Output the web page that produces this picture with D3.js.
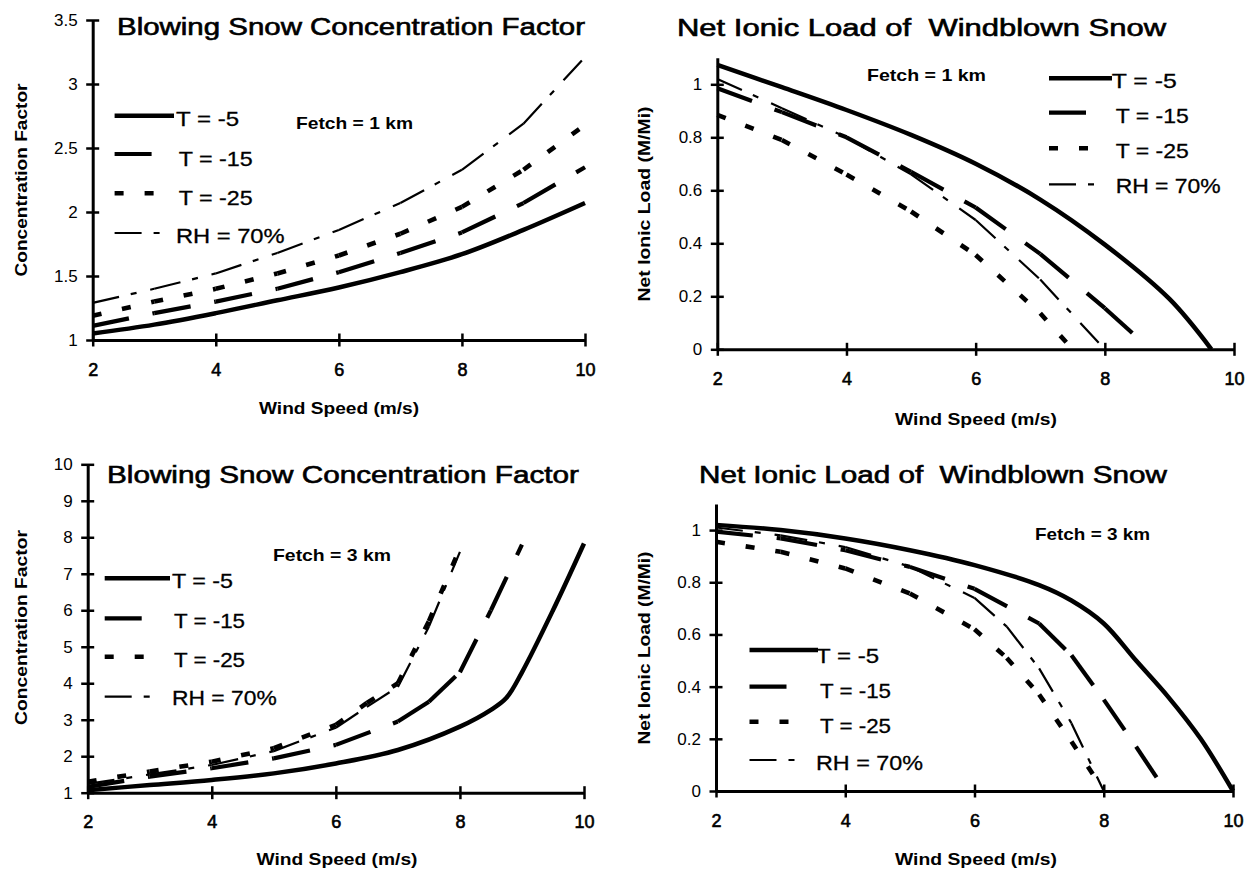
<!DOCTYPE html>
<html>
<head>
<meta charset="utf-8">
<script src="https://cdn.jsdelivr.net/npm/d3@7"></script>
<style>
  html, body { margin: 0; padding: 0; background: #fff; }
  svg { display: block; font-family: "Liberation Sans", Arial, sans-serif; }
</style>
</head>
<body>
<script>
// ---------------- DATA ----------------
const seriesNames = ["T = -5", "T = -15", "T = -25", "RH = 70%"];
const xTicks = [2, 4, 6, 8, 10];
const cfTicks1 = [1, 1.5, 2, 2.5, 3, 3.5];
const cfTicks3 = [1, 2, 3, 4, 5, 6, 7, 8, 9, 10];
const nlTicks = [0, 0.2, 0.4, 0.6, 0.8, 1];

// Fetch = 1 km : concentration factor
const windSpeed = [2, 3, 4, 5, 6, 7, 8, 9, 10];
const cf1_T5  = [1.05, 1.12, 1.21, 1.31, 1.41, 1.53, 1.67, 1.86, 2.07];
const cf1_T15 = [1.11, 1.21, 1.30, 1.40, 1.53, 1.68, 1.84, 2.07, 2.35];
const cf1_T25 = [1.19, 1.30, 1.40, 1.52, 1.66, 1.83, 2.04, 2.33, 2.68];
const cf1_RH  = [1.29, 1.40, 1.52, 1.68, 1.86, 2.07, 2.33, 2.69, 3.21];

// Fetch = 1 km : net ionic load
const nl1_T5_x  = [2, 3, 4, 5, 6, 7, 8, 9, 9.65];
const nl1_T5    = [1.073, 0.989, 0.903, 0.809, 0.70, 0.565, 0.395, 0.19, 0];
const nl1_T15_x = [2, 3, 4, 5, 6, 7, 8, 8.5];
const nl1_T15   = [0.985, 0.895, 0.80, 0.67, 0.535, 0.36, 0.155, 0.045];
const nl1_T25_x = [2, 3, 4, 5, 6, 7, 7.5];
const nl1_T25   = [0.885, 0.79, 0.66, 0.52, 0.356, 0.136, 0];
const nl1_RH_x  = [2, 3, 4, 5, 6, 7, 8];
const nl1_RH    = [1.02, 0.91, 0.80, 0.66, 0.488, 0.263, 0];

// Fetch = 3 km : concentration factor
const cf3_T5_x  = [2, 3, 4, 5, 6, 7, 8, 8.5, 8.75, 9, 9.5, 10];
const cf3_T5    = [1.07, 1.21, 1.35, 1.53, 1.80, 2.17, 2.81, 3.27, 3.6, 4.3, 6.0, 7.83];
const cf3_T15_x = [2, 3, 4, 5, 6, 7, 7.5, 8, 8.5, 9];
const cf3_T15   = [1.16, 1.44, 1.67, 1.94, 2.31, 2.95, 3.49, 4.3, 6.0, 7.8];
const cf3_T25_x = [2, 3, 4, 5, 6, 6.5, 7, 7.5, 8];
const cf3_T25   = [1.30, 1.58, 1.85, 2.22, 2.86, 3.46, 4.0, 5.7, 7.7];
const cf3_RH_x  = [2, 3, 4, 5, 6, 6.5, 7, 7.5, 8];
const cf3_RH    = [1.24, 1.50, 1.76, 2.14, 2.78, 3.35, 3.9, 5.55, 7.6];

// Fetch = 3 km : net ionic load
const nl3_T5_x  = [2, 3, 4, 5, 6, 7, 7.5, 8, 8.5, 9, 9.5, 10];
const nl3_T5    = [1.02, 1.0, 0.968, 0.923, 0.866, 0.789, 0.73, 0.642, 0.50, 0.36, 0.20, 0];
const nl3_T15_x = [2, 3, 4, 5, 6, 7, 7.5, 8, 8.5, 8.93];
const nl3_T15   = [0.994, 0.968, 0.923, 0.859, 0.775, 0.642, 0.52, 0.35, 0.17, 0.01];
const nl3_T25_x = [2, 3, 4, 5, 6, 6.5, 7, 7.5, 8];
const nl3_T25   = [0.955, 0.917, 0.853, 0.757, 0.62, 0.51, 0.37, 0.19, 0];
const nl3_RH_x  = [2, 3, 4, 5, 6, 6.5, 7, 7.5, 8];
const nl3_RH    = [1.01, 0.98, 0.935, 0.86, 0.74, 0.63, 0.47, 0.26, 0];

// ---------------- STYLES ----------------
const lineStyles = {
  "T = -5":   { w: 4.5, dash: null,          legLen: null },
  "T = -15":  { w: 4.2, dash: "37,24",       legLen: 37 },
  "T = -25":  { w: 4.6, dash: "9,21",        legLen: 39 },
  "RH = 70%": { w: 2.2, dash: "27,12,6,14",  legLen: 45 }
};

// ---------------- LAYOUT ----------------
const panels = [
  {
    title: "Blowing Snow Concentration Factor", titleX: 117, titleY: 35, titleLen: 468,
    xr: [92.7, 585], yDomain: [1, 3.5], yr: [340, 20], yTicks: cfTicks1,
    yTitle: "Concentration Factor", yTitleX: 21, yTitleY: 180, yTitleLen: 193,
    xTitleX: 339, xTitleY: 414, xTitleLen: 160,
    fetch: "Fetch = 1 km", fetchX: 296, fetchY: 129, fetchLen: 117,
    legLine: [114.6, 174],
    legRows: [
      { lineY: 115.7, tx: 176,   ty: 126,   len: 63 },
      { lineY: 154,   tx: 178.7, ty: 166,   len: 74 },
      { lineY: 193.3, tx: 178.7, ty: 205,   len: 74 },
      { lineY: 233,   tx: 176,   ty: 243,   len: 108.6 }
    ],
    series: [
      d3.zip(windSpeed, cf1_T5), d3.zip(windSpeed, cf1_T15),
      d3.zip(windSpeed, cf1_T25), d3.zip(windSpeed, cf1_RH)
    ]
  },
  {
    title: "Net Ionic Load of  Windblown Snow", titleX: 677, titleY: 36, titleLen: 489,
    xr: [717.3, 1234], yDomain: [0, 1.1], yr: [349.3, 57.8], yTicks: nlTicks,
    yTitle: "Net Ionic Load (M/Mi)", yTitleX: 644, yTitleY: 204, yTitleLen: 195,
    xTitleX: 976, xTitleY: 425, xTitleLen: 162,
    fetch: "Fetch = 1 km", fetchX: 867, fetchY: 81, fetchLen: 119,
    legLine: [1049, 1112],
    legRows: [
      { lineY: 78.3,  tx: 1111.7, ty: 88,  len: 65 },
      { lineY: 112.7, tx: 1115.7, ty: 123, len: 73 },
      { lineY: 148.3, tx: 1115.7, ty: 158, len: 73 },
      { lineY: 184.3, tx: 1115.7, ty: 193, len: 105 }
    ],
    series: [
      d3.zip(nl1_T5_x, nl1_T5), d3.zip(nl1_T15_x, nl1_T15),
      d3.zip(nl1_T25_x, nl1_T25), d3.zip(nl1_RH_x, nl1_RH)
    ]
  },
  {
    title: "Blowing Snow Concentration Factor", titleX: 107, titleY: 483, titleLen: 472,
    xr: [87.7, 584], yDomain: [1, 10], yr: [792.7, 464.3], yTicks: cfTicks3,
    yTitle: "Concentration Factor", yTitleX: 21, yTitleY: 627.5, yTitleLen: 195,
    xTitleX: 337, xTitleY: 865, xTitleLen: 161,
    fetch: "Fetch = 3 km", fetchX: 273, fetchY: 561, fetchLen: 118,
    legLine: [104.7, 170],
    legRows: [
      { lineY: 578.3, tx: 172, ty: 588.3, len: 61 },
      { lineY: 618.3, tx: 174, ty: 628.3, len: 71 },
      { lineY: 656.7, tx: 174, ty: 666.7, len: 71 },
      { lineY: 696.7, tx: 172, ty: 705,   len: 104.7 }
    ],
    series: [
      d3.zip(cf3_T5_x, cf3_T5), d3.zip(cf3_T15_x, cf3_T15),
      d3.zip(cf3_T25_x, cf3_T25), d3.zip(cf3_RH_x, cf3_RH)
    ]
  },
  {
    title: "Net Ionic Load of  Windblown Snow", titleX: 699, titleY: 483, titleLen: 468,
    xr: [716, 1233], yDomain: [0, 1.1], yr: [791, 504], yTicks: nlTicks,
    yTitle: "Net Ionic Load (M/Mi)", yTitleX: 644, yTitleY: 648, yTitleLen: 193,
    xTitleX: 976, xTitleY: 865, xTitleLen: 162,
    fetch: "Fetch = 3 km", fetchX: 1035, fetchY: 540, fetchLen: 115,
    legLine: [749.5, 818],
    legRows: [
      { lineY: 650,   tx: 816, ty: 663.3, len: 63 },
      { lineY: 686.7, tx: 820, ty: 698.3, len: 71 },
      { lineY: 721.7, tx: 820, ty: 733.3, len: 71 },
      { lineY: 760,   tx: 816, ty: 770,   len: 107 }
    ],
    series: [
      d3.zip(nl3_T5_x, nl3_T5), d3.zip(nl3_T15_x, nl3_T15),
      d3.zip(nl3_T25_x, nl3_T25), d3.zip(nl3_RH_x, nl3_RH)
    ]
  }
];

// ---------------- DRAW ----------------
const svg = d3.select("body").append("svg")
  .attr("width", 1253).attr("height", 871);
svg.append("rect").attr("width", 1253).attr("height", 871).attr("fill", "#fff");

panels.forEach(p => {
  const g = svg.append("g");
  const x = d3.scaleLinear().domain([2, 10]).range(p.xr);
  const y = d3.scaleLinear().domain(p.yDomain).range(p.yr);
  const y0 = y(p.yDomain[0]);

  // Series
  const line = d3.line().x(d => x(d[0])).y(d => y(d[1]));
  const smooth = d3.line().x(d => x(d[0])).y(d => y(d[1])).curve(d3.curveCatmullRom.alpha(0.5));
  p.series.forEach((data, i) => {
    const st = lineStyles[seriesNames[i]];
    if (!st.dash) {
      g.append("path").attr("d", smooth(data))
        .attr("fill", "none").attr("stroke", "#000")
        .attr("stroke-width", st.w).attr("stroke-linejoin", "round");
    } else {
      // dash pattern restarts at every data point (segment-by-segment drawing)
      for (let k = 0; k < data.length - 1; k++) {
        g.append("path").attr("d", line([data[k], data[k + 1]]))
          .attr("fill", "none").attr("stroke", "#000")
          .attr("stroke-width", st.w).attr("stroke-dasharray", st.dash);
      }
    }
  });

  // Y axis
  const gy = g.append("g").attr("transform", `translate(${p.xr[0]},0)`)
    .call(d3.axisLeft(y).tickValues(p.yTicks).tickSizeInner(6).tickSizeOuter(0)
      .tickPadding(9).tickFormat(d => String(d)));
  gy.select(".domain").attr("stroke", "#000").attr("stroke-width", 3);
  gy.selectAll(".tick line").attr("x1", -6.5).attr("x2", 6.5)
    .attr("stroke", "#000").attr("stroke-width", 2.5);
  gy.selectAll(".tick text").attr("font-size", 17)
    .attr("font-family", "Liberation Sans, Arial, sans-serif").attr("fill", "#000");

  // X axis
  const gx = g.append("g").attr("transform", `translate(0,${y0})`)
    .call(d3.axisBottom(x).tickValues(xTicks).tickSizeInner(6).tickSizeOuter(0)
      .tickPadding(17).tickFormat(d => String(d)));
  gx.select(".domain").attr("stroke", "#000").attr("stroke-width", 3);
  gx.selectAll(".tick line").attr("y1", -6.5).attr("y2", 6.5)
    .attr("stroke", "#000").attr("stroke-width", 2.5);
  gx.selectAll(".tick text").attr("font-size", 18)
    .attr("font-family", "Liberation Sans, Arial, sans-serif").attr("fill", "#000")
    .attr("stroke", "#000").attr("stroke-width", 0.6);

  // Title
  g.append("text").attr("x", p.titleX).attr("y", p.titleY)
    .attr("xml:space", "preserve").style("white-space", "pre")
    .attr("font-size", 23).attr("fill", "#000")
    .attr("stroke", "#000").attr("stroke-width", 0.6)
    .attr("textLength", p.titleLen).attr("lengthAdjust", "spacingAndGlyphs")
    .text(p.title);

  // Axis titles
  g.append("text")
    .attr("transform", `translate(${p.yTitleX + 6},${p.yTitleY}) rotate(-90)`)
    .attr("text-anchor", "middle").attr("font-size", 17).attr("font-weight", "bold")
    .attr("textLength", p.yTitleLen).attr("lengthAdjust", "spacingAndGlyphs")
    .attr("fill", "#000").text(p.yTitle);
  g.append("text")
    .attr("x", p.xTitleX).attr("y", p.xTitleY)
    .attr("text-anchor", "middle").attr("font-size", 17).attr("font-weight", "bold")
    .attr("textLength", p.xTitleLen).attr("lengthAdjust", "spacingAndGlyphs")
    .attr("fill", "#000").text("Wind Speed (m/s)");

  // Fetch label
  g.append("text").attr("x", p.fetchX).attr("y", p.fetchY)
    .attr("font-size", 17).attr("font-weight", "bold")
    .attr("textLength", p.fetchLen).attr("lengthAdjust", "spacingAndGlyphs")
    .attr("fill", "#000").text(p.fetch);

  // Legend
  p.legRows.forEach((r, i) => {
    const st = lineStyles[seriesNames[i]];
    const x2 = st.legLen ? p.legLine[0] + st.legLen : p.legLine[1];
    g.append("line")
      .attr("x1", p.legLine[0]).attr("x2", x2)
      .attr("y1", r.lineY).attr("y2", r.lineY)
      .attr("stroke", "#000").attr("stroke-width", st.w)
      .attr("stroke-dasharray", st.dash);
    g.append("text").attr("x", r.tx).attr("y", r.ty)
      .attr("xml:space", "preserve")
      .attr("font-size", 21).attr("fill", "#000")
      .attr("stroke", "#000").attr("stroke-width", 0.3)
      .attr("textLength", r.len).attr("lengthAdjust", "spacingAndGlyphs")
      .text(seriesNames[i]);
  });
});
</script>
</body>
</html>
